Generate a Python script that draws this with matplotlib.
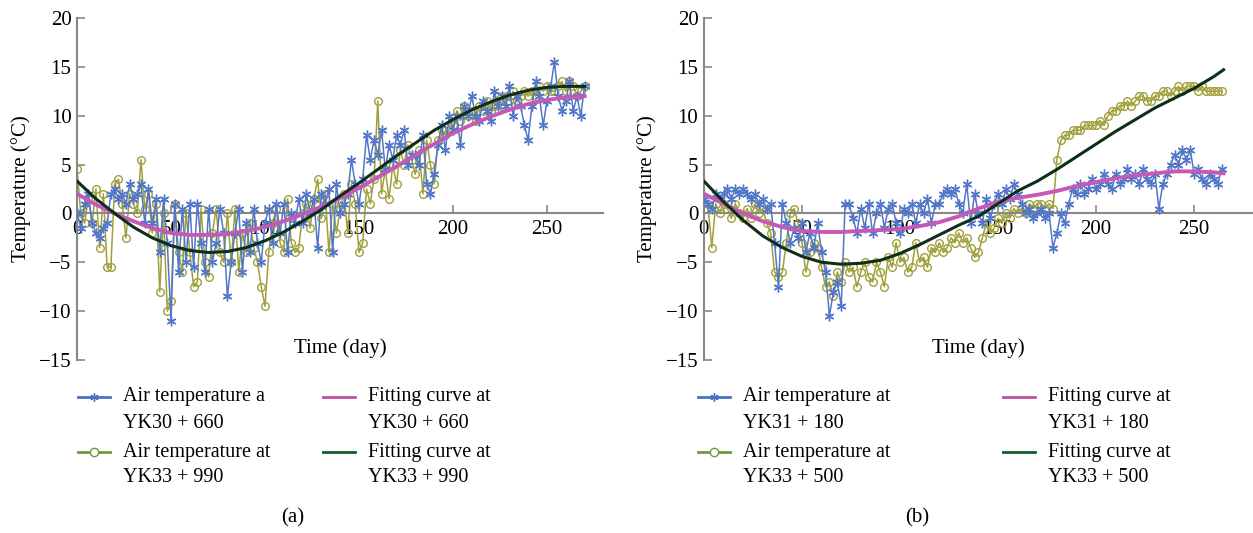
import numpy as np
import matplotlib.pyplot as plt
from matplotlib.lines import Line2D

plt.rcParams["font.family"] = ["Liberation Serif", "DejaVu Serif"]
plt.rcParams["axes.unicode_minus"] = True

# ---- panel (a) ----
days_a = list(range(0, 271, 2))
air_yk30_660 = [
    0, -1.5, 1, 2, -1, -2, -2.5, -1.5, -1, 2,
    2.5, 1.5, 2, 1, 3, 1.5, 2, 3, -1, 2.5,
    -1, 1.5, -4, 1.5, -3, -11, 1, -6, 0.5, -5,
    1, -5.5, 1, -3, -6, 0.5, -5, -3, 0.5, -2,
    -8.5, -5, -2, 0.5, -6, -1, -4, 0.5, -3, -5,
    -1, 0.5, -3, 1, -2, 1, -4, 0, -1, 1.5,
    -1, 2, 0, 1.5, -3.5, 2, 1, 2.5, -4, 3,
    0, 1, 2, 5.5, 3, 1, 3.5, 8, 5.5, 7.5,
    6, 8.5, 4.5, 7, 5.5, 8, 7, 8.5, 5, 6,
    6, 5, 8, 3, 2, 4, 7, 9, 6.5, 10,
    8.5, 10, 7, 11, 10, 12, 10, 9.5, 11.5, 10.5,
    9.5, 12.5, 11, 12, 11, 13, 10, 12, 11, 9,
    7.5, 11, 13.5, 12, 9, 11.5, 13, 15.5, 12, 10.5,
    11.5, 13.5, 10.5, 12, 10, 13,
]
air_yk33_990 = [
    4.5, 0, -1, 1.5, -1, 2.5, -3.5, 2, -5.5, -5.5,
    3, 3.5, 1, -2.5, 2, 1, 0, 5.5, 0.5, 2,
    -2, 1, -8, 0, -10, -9, 1, -4, -6, 0,
    -4, -7.5, -7, 0.5, -5, -6.5, -2, 0.5, -4, -5,
    0, -5, 0.5, -6, -2, -4, -1, -3.5, -5, -7.5,
    -9.5, -4, -1, 0.5, -3, -4, 1.5, -3, -4, -3.5,
    0, 1, -1.5, 1.5, 3.5, -0.5, 2, -4, 1, -2,
    0.5, 2, -2, 3, 1, -4, -3, 2.5, 1, 3.5,
    11.5, 2, 4.5, 1.5, 5, 3, 6.5, 5, 7, 5.5,
    4, 6.5, 2, 7.5, 5, 3, 7.5, 8.5, 8, 8.5,
    9, 10.5, 9.5, 11, 10, 10.5, 9.5, 11, 10.5, 11.5,
    10.5, 11, 12, 11, 12, 11.5, 12.5, 11.5, 12, 12.5,
    12, 12.5, 12, 13, 12.5, 13, 12.5, 12.5, 13, 13.5,
    12.5, 13.5, 13, 12, 12.5, 13,
]
fit_days_a = list(range(0, 271, 10))
fit_yk30_660 = [2, 0.9, 0, -0.8, -1.5, -2, -2.2, -2.2, -2.1, -1.8,
                -1.4, -0.8, -0.1, 0.7, 1.6, 2.6, 3.7, 4.8, 6, 7.1,
                8.2, 9.1, 9.9, 10.6, 11.2, 11.6, 11.9, 12]
fit_yk33_990 = [3.3, 1.5, 0, -1.4, -2.5, -3.3, -3.8, -4, -3.9, -3.5,
                -2.8, -1.9, -0.8, 0.4, 1.8, 3.1, 4.5, 5.9, 7.2, 8.5,
                9.6, 10.6, 11.4, 12.1, 12.6, 12.9, 13, 13]

# ---- panel (b) ----
days_b = list(range(0, 265, 2))
air_yk31_180 = [
    1.5, 1, 0.5, 2, 1.5, 2, 2.5, 1.5, 2.5, 2,
    2.5, 2, 1.5, 2, 1, 1.5, 0.5, 1, -3, -7.5,
    1, -1, -3, -1.5, -2.5, -1, -4, -2, -3.5, -1,
    -4, -6, -10.5, -8, -7, -9.5, 1, 1, -0.5, -2,
    0.5, -1.5, 1, -2, 0, 1, -1.5, 0.5, 1, -1,
    -2, 0.5, 0, 1, -1, 1, 0, 1.5, -1, 1,
    1, 2, 2.5, 2, 2.5, 1, 0, 3, -1, 2,
    0, -1, 1.5, -0.5, 1, 2, 1, 2.5, 1.5, 3,
    2, 1, 0, 0.5, -0.5, 0, 0.5, -0.5, 0, -3.5,
    -2, 0, -1, 1, 2.5, 2, 3, 2, 2.5, 3.5,
    2.5, 3, 4, 3, 2.5, 4, 3, 3.5, 4.5, 3.5,
    4, 3, 4.5, 3.5, 3, 4, 0.5, 3, 4, 5,
    6, 5, 6.5, 5.5, 6.5, 4, 4.5, 3.5, 3, 4,
    3.5, 3, 4.5,
]
air_yk33_500 = [
    0.5, 1, -3.5, 1, 0, 1, 0.5, -0.5, 1, 0,
    -0.5, 0.5, -0.5, 1, 0, 0.5, -1, -2, -6, -6.5,
    -6, -3, 0, 0.5, -1, -3, -6, -4, -3, -3.5,
    -5.5, -7.5, -7, -8.5, -6, -7, -5, -6, -5.5, -7.5,
    -6, -5, -6.5, -7, -5, -6, -7.5, -4.5, -5.5, -3,
    -5, -4.5, -6, -5.5, -3, -5, -4.5, -5.5, -3.5, -4,
    -3, -4, -3.5, -2.5, -3, -2, -3, -2.5, -3.5, -4.5,
    -4, -2.5, -1, -2, -1.5, -0.5, -1, 0, -0.5, 0.5,
    0, 0.5, 0, 1, 0.5, 1, 1, 0.5, 1, 0.5,
    5.5, 7.5, 8, 8, 8.5, 8.5, 8.5, 9, 9, 9,
    9, 9.5, 9, 10, 10.5, 10.5, 11, 11, 11.5, 11,
    11.5, 12, 12, 11.5, 11.5, 12, 12, 12.5, 12.5, 12,
    12.5, 13, 12.5, 13, 13, 13, 12.5, 13, 12.5, 12.5,
    12.5, 12.5, 12.5,
]
fit_days_b = list(range(0, 261, 10)) + [265]
fit_yk31_180 = [2, 1, 0, -0.8, -1.4, -1.8, -1.9, -1.9, -1.8, -1.7,
                -1.6, -1.3, -0.9, -0.3, 0.5, 1.2, 1.6, 1.9, 2.3, 2.8,
                3.2, 3.6, 3.9, 4.1, 4.3, 4.3, 4.2, 4.1]
fit_yk33_500 = [3.3, 1.2, -0.7, -2.3, -3.5, -4.4, -5, -5.2, -5.1, -4.8,
                -4.1, -3.2, -2.2, -1.2, -0.3, 1, 2.3, 3.3, 4.5, 5.8,
                7.1, 8.4, 9.6, 10.8, 11.8, 12.8, 14, 14.7]

BLUE = "#5276c8"
OLIVE = "#a0a03a"
PINK = "#c658b8"
DARK = "#0e2e1a"

W, H = 1253, 533

panels = [
    dict(rect=[0.0615, 0.3246, 0.42, 0.6417], days=days_a, air1=air_yk30_660, air2=air_yk33_990,
         fd=fit_days_a, fit1=fit_yk30_660, fit2=fit_yk33_990,
         labels=[("Air temperature a", "YK30 + 660"), ("Air temperature at", "YK33 + 990"),
                 ("Fitting curve at", "YK30 + 660"), ("Fitting curve at", "YK33 + 990")],
         cols=[78, 323], cap="(a)", cap_x=293),
    dict(rect=[0.5618, 0.3246, 0.4382, 0.6417], days=days_b, air1=air_yk31_180, air2=air_yk33_500,
         fd=fit_days_b, fit1=fit_yk31_180, fit2=fit_yk33_500,
         labels=[("Air temperature at", "YK31 + 180"), ("Air temperature at", "YK33 + 500"),
                 ("Fitting curve at", "YK31 + 180"), ("Fitting curve at", "YK33 + 500")],
         cols=[698, 1003], cap="(b)", cap_x=917),
]

legend_styles = [
    dict(color="#4a72c4", marker=(6, 2, 0), ms=6, mew=1),
    dict(color="#6f9a3c", marker="o", ms=6, mfc="white", mew=1),
    dict(color="#c050a0"),
    dict(color="#105c30"),
]
row_y = [397, 452]

fig = plt.figure(figsize=(12.53, 5.33), dpi=100)

for p in panels:
    ax = fig.add_axes(p["rect"])
    ax.plot(p["days"], p["air2"], color=OLIVE, lw=1.1, marker="o", ms=5.5,
            mfc="none", mec=OLIVE, mew=1.0, zorder=2)
    ax.plot(p["days"], p["air1"], color=BLUE, lw=1.1, marker=(6, 2, 0), ms=7,
            mec=BLUE, mew=1.0, zorder=3)
    ax.plot(p["fd"], p["fit1"], color=PINK, lw=2.8, zorder=4)
    ax.plot(p["fd"], p["fit2"], color=DARK, lw=2.2, zorder=5)

    ax.set_xlim(0, 280)
    ax.set_ylim(-15, 20)
    ax.set_yticks(range(-15, 21, 5))
    ax.set_xticks(range(0, 251, 50))
    ax.spines["top"].set_visible(False)
    ax.spines["right"].set_visible(False)
    ax.spines["bottom"].set_position(("data", 0))
    ax.spines["left"].set_position(("data", 0))
    for s in ("bottom", "left"):
        ax.spines[s].set_color("#888888")
        ax.spines[s].set_linewidth(1.5)
    ax.tick_params(axis="both", direction="in", length=6, width=1.2,
                   color="#888888", labelsize=15, pad=4)
    ax.tick_params(axis="x", pad=5)
    ax.patch.set_alpha(0)
    ax.set_ylabel("Temperature (°C)", fontsize=15, labelpad=6)
    ax.text(140, -13.8, "Time (day)", ha="center", va="center", fontsize=15)

    # legend: 2 columns x 2 rows, handle aligned with first text line
    for i, (line1, line2) in enumerate(p["labels"]):
        x0 = p["cols"][i // 2]
        y = row_y[i % 2]
        st = dict(legend_styles[i])
        st.setdefault("lw", 2)
        hx = [x0 / W, (x0 + 32) / W]
        fig.add_artist(Line2D(hx, [1 - y / H] * 2, transform=fig.transFigure,
                              color=st["color"], lw=st["lw"]))
        if "marker" in st:
            fig.add_artist(Line2D([(x0 + 16) / W], [1 - y / H], transform=fig.transFigure,
                                  color=st["color"], marker=st["marker"], ms=st["ms"],
                                  mfc=st.get("mfc", st["color"]), mew=st["mew"], lw=0))
        fig.text((x0 + 45) / W, 1 - y / H, line1, ha="left", va="center", fontsize=14.5)
        fig.text((x0 + 45) / W, 1 - (y + 26) / H, line2, ha="left", va="center", fontsize=14.5)

    fig.text(p["cap_x"] / W, 1 - 518 / H, p["cap"], ha="center", va="center", fontsize=15)

fig.savefig("out.png", dpi=100)
